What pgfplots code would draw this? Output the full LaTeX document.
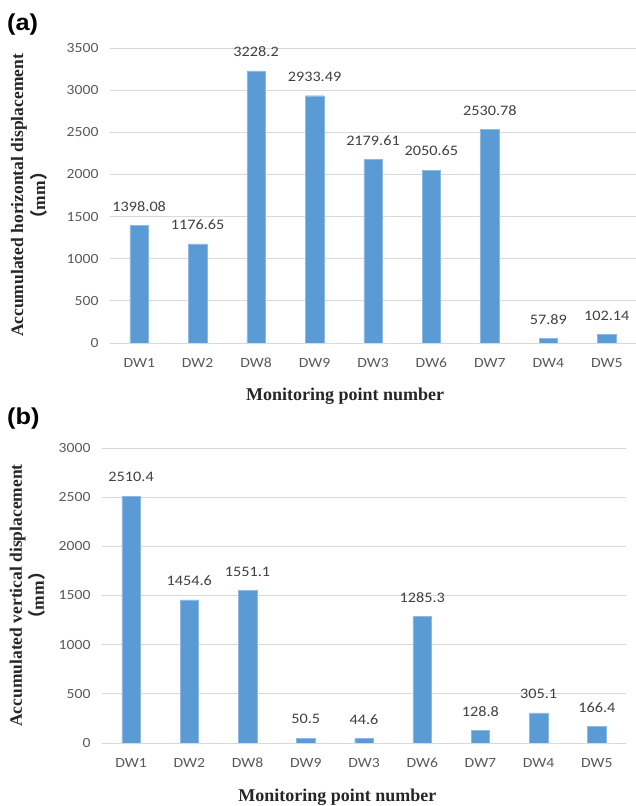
\documentclass[border=0pt]{standalone}
\usepackage{fontspec}
\usepackage{pgfplots}
\pgfplotsset{compat=1.18}
\setmainfont{Liberation Serif}
\setsansfont{Carlito}[FakeStretch=1.12]
\newfontfamily\headfont{Liberation Sans}[FakeStretch=1.1]
\newfontfamily\cjk{Noto Sans CJK SC}
\definecolor{barblue}{HTML}{5B9BD5}
\definecolor{baredge}{HTML}{8DB9E3}
\definecolor{gridgray}{HTML}{D9D9D9}
\definecolor{ticktext}{HTML}{595959}
\definecolor{labeltext}{HTML}{404040}

\pgfplotsset{
  panel/.style={
    scale only axis, height=295pt,
    xmin=-0.5, xmax=8.5, ymin=0,
    ybar, bar width=18.5pt,
    axis line style={draw=none},
    major tick length=0pt,
    ymajorgrids, grid style={gridgray, line width=0.9pt},
    xtick={0,...,8},
    ytick distance=500,
    tick label style={font=\fontsize{14}{14}\selectfont\sffamily, text=ticktext},
    /pgf/number format/assume math mode=true,
    /pgf/number format/1000 sep={},
    yticklabel style={anchor=east, xshift=-8pt},
    xticklabel style={anchor=center, yshift=-20pt},
    nodes near coords, point meta=explicit symbolic,
    every node near coord/.append style={font=\fontsize{14.5}{14}\selectfont\sffamily, text=labeltext, anchor=center, yshift=19pt},
  }
}

\begin{document}
\begin{tikzpicture}
\path[use as bounding box] (0pt,0pt) rectangle (636pt,806pt);

\begin{axis}[panel, width=526pt, ymax=3500,
  at={(110pt,463pt)}, anchor=south west,
  xticklabels={DW1,DW2,DW8,DW9,DW3,DW6,DW7,DW4,DW5},
  xlabel={Monitoring point number},
  every axis x label/.style={at={(rel axis cs:0.447,-0.18)}, anchor=center, font=\bfseries\fontsize{18}{18}\selectfont, text=black!85},
  ylabel={Accumulated horizontal displacement\\{\cjk （}mm{\cjk ）}},
  every axis y label/.style={at={(rel axis cs:-0.154,0.5)}, rotate=90, anchor=center, font=\bfseries\fontsize{17.5}{22}\selectfont, text=black!85, align=center},
]
\addplot[fill=barblue, draw=baredge, line width=0.4pt] coordinates {
  (0,1398.08) [1398.08]
  (1,1176.65) [1176.65]
  (2,3228.2) [3228.2]
  (3,2933.49) [2933.49]
  (4,2179.61) [2179.61]
  (5,2050.65) [2050.65]
  (6,2530.78) [2530.78]
  (7,57.89) [57.89]
  (8,102.14) [102.14]
};
\end{axis}

\begin{axis}[panel, width=524pt, ymax=3000,
  at={(102pt,63pt)}, anchor=south west,
  xticklabels={DW1,DW2,DW8,DW9,DW3,DW6,DW7,DW4,DW5},
  xlabel={Monitoring point number},
  every axis x label/.style={at={(rel axis cs:0.449,-0.183)}, anchor=center, font=\bfseries\fontsize{18}{18}\selectfont, text=black!85},
  ylabel={Accumulated vertical displacement\\{\cjk （}mm{\cjk ）}},
  every axis y label/.style={at={(rel axis cs:-0.142,0.5)}, rotate=90, anchor=center, font=\bfseries\fontsize{17.5}{22}\selectfont, text=black!85, align=center},
]
\addplot[fill=barblue, draw=baredge, line width=0.4pt] coordinates {
  (0,2510.4) [2510.4]
  (1,1454.6) [1454.6]
  (2,1551.1) [1551.1]
  (3,50.5) [50.5]
  (4,44.6) [44.6]
  (5,1285.3) [1285.3]
  (6,128.8) [128.8]
  (7,305.1) [305.1]
  (8,166.4) [166.4]
};
\end{axis}

\node[anchor=west, font=\headfont\bfseries\fontsize{23}{23}\selectfont, inner sep=0pt] at (7pt,781pt) {(a)};
\node[anchor=west, font=\headfont\bfseries\fontsize{23}{23}\selectfont, inner sep=0pt] at (7pt,387pt) {(b)};
\end{tikzpicture}
\end{document}
